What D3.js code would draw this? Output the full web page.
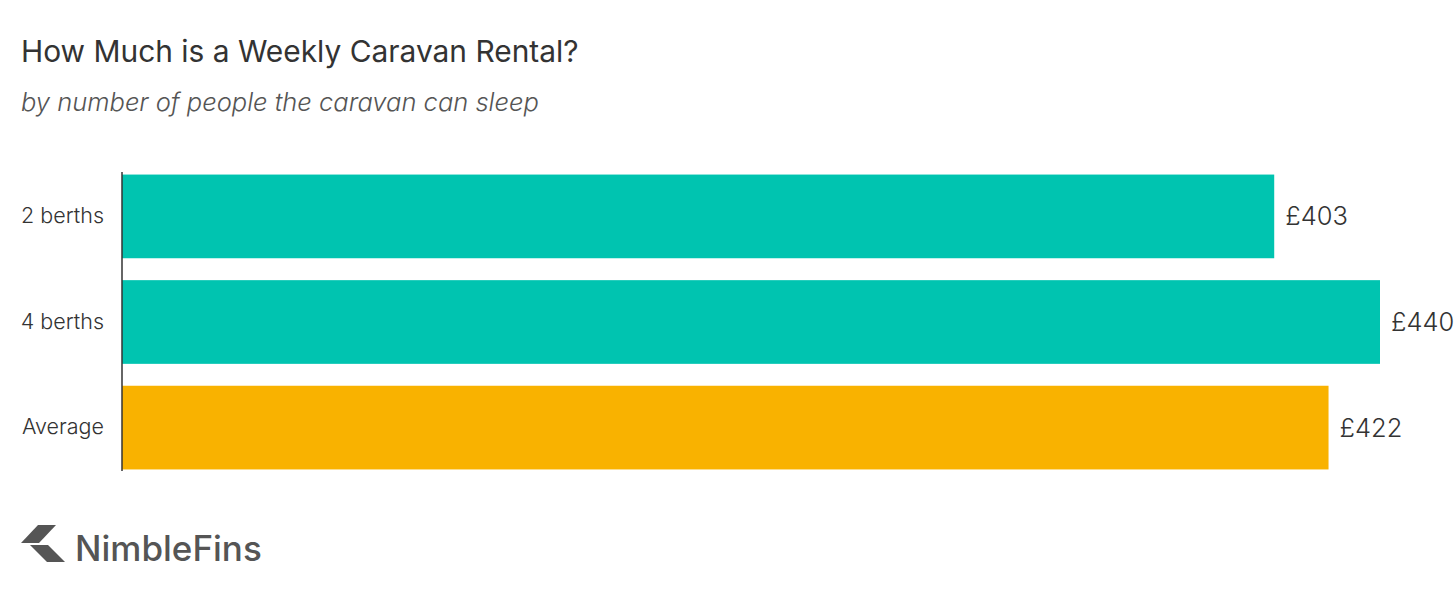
<!DOCTYPE html>
<html>
<head>
<meta charset="utf-8">
<script src="https://cdn.jsdelivr.net/npm/d3@7"></script>
<style>
  html, body { margin: 0; padding: 0; background: #fff; }
  svg { display: block; }
</style>
</head>
<body>
<svg id="chart" width="1456" height="592"></svg>
<script>
const categories = ["2 berths", "4 berths", "Average"];
const values = [403, 440, 422];
const valueLabels = ["£403", "£440", "£422"];
const barColors = ["#00c4b0", "#00c4b0", "#f9b200"];

const svg = d3.select("#chart");
const FONT = "Inter, 'Open Sans', sans-serif";

svg.append("text")
  .attr("x", 21).attr("y", 62)
  .attr("font-family", FONT).attr("font-size", 29.9).attr("font-weight", 400)
  .attr("fill", "#333")
  .text("How Much is a Weekly Caravan Rental?");

svg.append("text")
  .attr("x", 21).attr("y", 111)
  .attr("font-family", FONT).attr("font-size", 25.5).attr("font-weight", 300)
  .attr("font-style", "italic")
  .attr("fill", "#555")
  .text("by number of people the caravan can sleep");

const x = d3.scaleLinear().domain([0, 440]).range([122, 1380]);
const y = d3.scaleBand().domain(categories).range([164, 480]).paddingInner(0.2075).paddingOuter(0.1);

svg.selectAll("rect.bar")
  .data(categories)
  .join("rect")
  .attr("class", "bar")
  .attr("x", x(0))
  .attr("y", d => y(d))
  .attr("width", (d, i) => x(values[i]) - x(0))
  .attr("height", y.bandwidth())
  .attr("fill", (d, i) => barColors[i]);

svg.selectAll("text.val")
  .data(categories)
  .join("text")
  .attr("class", "val")
  .attr("x", (d, i) => x(values[i]) + 11)
  .attr("y", d => y(d) + y.bandwidth() / 2)
  .attr("dy", "0.35em")
  .attr("font-family", FONT).attr("font-size", 25.5).attr("font-weight", 300)
  .attr("fill", "#333")
  .text((d, i) => valueLabels[i]);

const yAxis = svg.append("g")
  .attr("transform", `translate(${x(0)},0)`)
  .call(d3.axisLeft(y).tickSize(0).tickPadding(18));
yAxis.select(".domain").attr("stroke", "#333").attr("stroke-width", 1.5)
  .attr("d", `M0,172V471`);
yAxis.selectAll("text")
  .attr("font-family", FONT).attr("font-size", 21.5).attr("font-weight", 300).attr("fill", "#333");

// logo
const logo = svg.append("g").attr("fill", "#555");
logo.append("path").attr("d", "M38,525L56,525L39,543L21,543Z");
logo.append("path").attr("d", "M30,545L48,545L65,562L47,562Z");
logo.append("text")
  .attr("x", 75).attr("y", 561)
  .attr("font-family", FONT).attr("font-size", 35).attr("font-weight", 500)
  .text("NimbleFins");
</script>
</body>
</html>
